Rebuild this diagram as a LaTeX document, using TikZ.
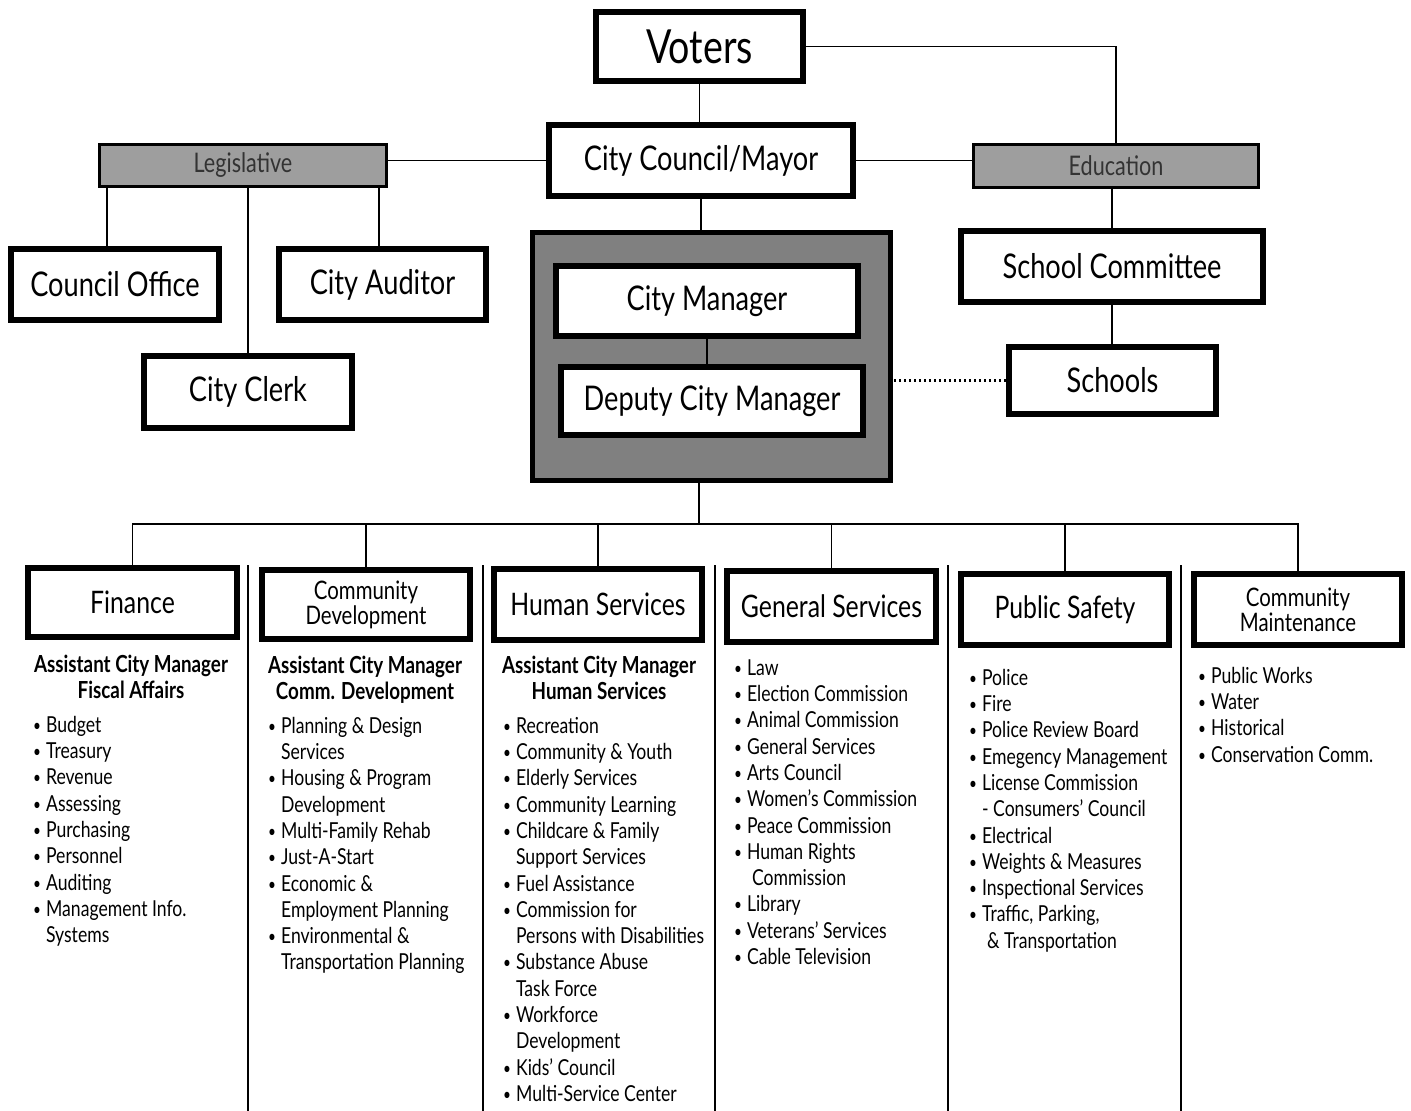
\documentclass[tikz,border=0pt]{standalone}
\usepackage{fontspec}
\setmainfont[FakeStretch=0.8]{Lato}
\usetikzlibrary{positioning,calc}
\tikzset{font=\fontsize{22}{26.3}\selectfont}
\tikzset{
	office/.style={draw, line width=6pt, fill=white, inner sep=0pt, align=center},
	branch/.style={draw, line width=3pt, fill=black!38, inner sep=0pt, text=black!80},
	group/.style={draw, line width=5pt, fill=black!50, inner sep=0pt},
	link/.style={line width=1.1pt},
	duties/.style={anchor=north west, inner sep=0pt, align=left},
	head/.style={anchor=north, inner sep=0pt, align=center, font=\fontsize{23.5}{24.5}\selectfont\bfseries},
}
\newcommand{\szvote}{\fontsize{47}{50}\selectfont}
\newcommand{\szoff}{\fontsize{34}{38}\selectfont}
\newcommand{\szbranch}{\fontsize{27}{30}\selectfont}
\newcommand{\szdept}{\fontsize{31}{34}\selectfont}
\newcommand{\szdepttwo}{\fontsize{25.5}{25}\selectfont}
\newcommand{\itm}{{\fontsize{17}{17}\selectfont\raisebox{1pt}{\textbullet}}\hspace{5pt}}
\newcommand{\ind}{\phantom{\itm}}

\begin{document}
\begin{tikzpicture}[x=1pt, y=-1pt]
	\fill[white] (0,0) rectangle (1411,1111);
	\useasboundingbox (0,0) rectangle (1411,1111);

	% top of the chart
	\node[office, minimum width=207pt, minimum height=69pt, font=\szvote] (voters) at (699.5,46.5) {Voters};
	\node[office, minimum width=304pt, minimum height=71pt, font=\szoff] (council) at (701,160.5) {City Council/Mayor};
	\node[branch, minimum width=287pt, minimum height=42pt, font=\szbranch] (legis) at (243,165.5) {Legislative};
	\node[branch, minimum width=285pt, minimum height=43pt, font=\szbranch] (edu) at (1116,166) {Education};

	\node[office, minimum width=208pt, minimum height=71pt, font=\szoff] (coffice) at (115,284.5) {Council Office};
	\node[office, minimum width=207pt, minimum height=71pt, font=\szoff] (auditor) at (382.5,284.5) {City Auditor};
	\node[office, minimum width=208pt, minimum height=72pt, font=\szoff] (clerk) at (248,392) {City Clerk};

	\node[group, minimum width=358pt, minimum height=248pt] (mgrgroup) at (711.5,356.5) {};
	\node[office, minimum width=302pt, minimum height=70pt, font=\szoff] (manager) at (707,301) {City Manager};
	\node[office, minimum width=302pt, minimum height=68pt, font=\szoff] (deputy) at (712,401) {Deputy City Manager};

	\node[office, minimum width=302pt, minimum height=71pt, font=\szoff] (schcomm) at (1112,266.5) {School Committee};
	\node[office, minimum width=207pt, minimum height=67pt, font=\szoff] (schools) at (1112.5,380.5) {Schools};

	\draw[link] (voters.south) -- (voters.south |- council.north);
	\draw[link] (voters.east) -| (edu.north);
	\draw[link] (council.west) -- (council.west -| legis.east);
	\draw[link] (council.east) -- (council.east -| edu.west);
	\draw[link] (council.south) -- (council.south |- mgrgroup.north);
	\draw[link] ([xshift=-8pt]coffice.north) -- ([xshift=-8pt]coffice.north |- legis.south);
	\draw[link] (clerk.north) -- (clerk.north |- legis.south);
	\draw[link] ([xshift=-3.5pt]auditor.north) -- ([xshift=-3.5pt]auditor.north |- legis.south);
	\draw[link] (manager.south) -- (manager.south |- deputy.north);
	\draw[link] (schcomm.north) -- (schcomm.north |- edu.south);
	\draw[link] (schcomm.south) -- (schcomm.south |- schools.north);
	\draw[line width=2.6pt, dash pattern=on 2.4pt off 2.6pt] (schools.west) -- (schools.west -| mgrgroup.east);

	% departments
	\node[office, minimum width=209pt, minimum height=69pt, font=\szdept] (fin) at (132.5,602.5) {Finance};
	\node[office, minimum width=208pt, minimum height=69pt, font=\szdepttwo] (cdev) at (366,604.5) {Community\\Development};
	\node[office, minimum width=208pt, minimum height=71pt, font=\szdept] (hserv) at (598,604.5) {Human Services};
	\node[office, minimum width=209pt, minimum height=71pt, font=\szdept] (gserv) at (831.5,606.5) {General Services};
	\node[office, minimum width=208pt, minimum height=71pt, font=\szdept] (psafe) at (1065,609.5) {Public Safety};
	\node[office, minimum width=208pt, minimum height=71pt, font=\szdepttwo] (cmaint) at (1298,609.5) {Community\\Maintenance};

	\coordinate (bus) at (699,524);
	\draw[link] (bus) -- (bus |- mgrgroup.south);
	\foreach \d in {fin,cdev,hserv,gserv,psafe,cmaint}
		\draw[link] (bus) -| (\d.north);
	\foreach \x in {248,483,715,948,1181}
		\draw[link] (\x,565) -- (\x,1111);

	% what each department covers
	\node[head] (finhead) at (131,654.6) {\strut Assistant City Manager\\Fiscal Affairs};
	\node[head] (cdevhead) at (365,656) {\strut Assistant City Manager\\Comm. Development};
	\node[head] (hservhead) at (599,656) {\strut Assistant City Manager\\Human Services};

	\node[duties] (finlist) at (33,713.6) {\strut\itm Budget\\\itm Treasury\\\itm Revenue\\\itm Assessing\\\itm Purchasing\\\itm Personnel\\\itm Auditing\\\itm Management Info.\\\ind Systems};
	\node[duties] (cdevlist) at (268,714.6) {\strut\itm Planning \& Design\\\ind Services\\\itm Housing \& Program\\\ind Development\\\itm Multi-Family Rehab\\\itm Just-A-Start\\\itm Economic \&\\\ind Employment Planning\\\itm Environmental \&\\\ind Transportation Planning};
	\node[duties] (hservlist) at (503,714.6) {\strut\itm Recreation\\\itm Community \& Youth\\\itm Elderly Services\\\itm Community Learning\\\itm Childcare \& Family\\\ind Support Services\\\itm Fuel Assistance\\\itm Commission for\\\ind Persons with Disabilities\\\itm Substance Abuse\\\ind Task Force\\\itm Workforce\\\ind Development\\\itm Kids' Council\\\itm Multi-Service Center};
	\node[duties] (gservlist) at (734,656.6) {\strut\itm Law\\\itm Election Commission\\\itm Animal Commission\\\itm General Services\\\itm Arts Council\\\itm Women's Commission\\\itm Peace Commission\\\itm Human Rights\\\ind\hspace{5pt}Commission\\\itm Library\\\itm Veterans' Services\\\itm Cable Television};
	\node[duties] (psafelist) at (969,666.6) {\strut\itm Police\\\itm Fire\\\itm Police Review Board\\\itm Emegency Management\\\itm License Commission\\\ind- Consumers' Council\\\itm Electrical\\\itm Weights \& Measures\\\itm Inspectional Services\\\itm Traffic, Parking,\\\ind\hspace{5pt}\& Transportation};
	\node[duties] (cmaintlist) at (1198,664.6) {\strut\itm Public Works\\\itm Water\\\itm Historical\\\itm Conservation Comm.};
\end{tikzpicture}
\end{document}
